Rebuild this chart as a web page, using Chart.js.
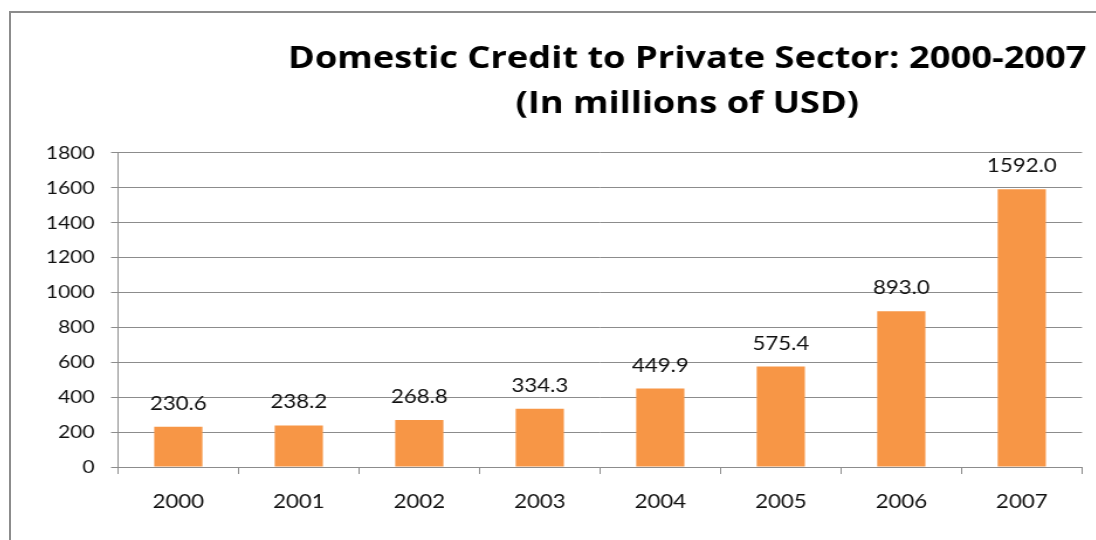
<!DOCTYPE html>
<html>
<head>
<meta charset="utf-8">
<title>Domestic Credit to Private Sector: 2000-2007</title>
<script src="https://cdn.jsdelivr.net/npm/chart.js@4.4.1/dist/chart.umd.min.js"></script>
<style>
  html, body { margin: 0; padding: 0; background: #fff; overflow: hidden; width: 1096px; height: 540px; }
  #frame {
    position: absolute; left: 9px; top: 11px; width: 2000px; height: 1000px;
    border-top: 2px solid #8c8c8c; border-left: 2px solid #8c8c8c;
  }
  #chart {
    position: absolute; left: 11px; top: 13px;
    transform: scaleX(1.17); transform-origin: 0 0;
  }
</style>
</head>
<body>
<div id="frame"></div>
<canvas id="chart" width="1156" height="527"></canvas>
<script>
// Years on the category axis
const years = ['2000', '2001', '2002', '2003', '2004', '2005', '2006', '2007'];
// Domestic credit to the private sector, millions of USD
const creditValues = [230.6, 238.2, 268.8, 334.3, 449.9, 575.4, 893.0, 1592.0];
// Value axis range and step
const yMin = 0;
const yMax = 1800;
const yStep = 200;
const titleLines = ['Domestic Credit to Private Sector: 2000-2007', '(In millions of USD)'];

const FONT = 'Lato';
const TITLE_FONT = 'Open Sans';
const INK = '#111111';
const GRID = '#8c8c8c';

// Writes each bar's value just above it
const valueLabels = {
  id: 'valueLabels',
  afterDatasetsDraw(chart) {
    const ctx = chart.ctx;
    const meta = chart.getDatasetMeta(0);
    const data = chart.data.datasets[0].data;
    ctx.save();
    ctx.font = '19px ' + FONT;
    ctx.fillStyle = INK;
    ctx.textAlign = 'center';
    ctx.textBaseline = 'alphabetic';
    meta.data.forEach((bar, i) => {
      ctx.fillText(Number(data[i]).toFixed(1), bar.x, bar.y - 17);
    });
    ctx.restore();
  }
};

new Chart(document.getElementById('chart'), {
  type: 'bar',
  data: {
    labels: years,
    datasets: [{
      data: creditValues,
      backgroundColor: '#F79646',
      borderWidth: 0,
      barPercentage: 0.4,
      categoryPercentage: 1.0
    }]
  },
  options: {
    responsive: false,
    animation: false,
    devicePixelRatio: 1,
    layout: { padding: 0 },
    plugins: {
      legend: { display: false },
      tooltip: { enabled: false },
      title: {
        display: true,
        text: titleLines,
        color: '#000',
        font: { family: TITLE_FONT, size: 31, weight: 'bold', lineHeight: 1.435 },
        padding: { top: 24, bottom: 27 }
      }
    },
    scales: {
      x: {
        offset: true,
        grid: { display: true, drawOnChartArea: false, drawTicks: true, tickLength: 7, color: GRID, offset: true },
        border: { display: true, color: GRID },
        ticks: { color: INK, font: { family: FONT, size: 19 }, padding: 16 },
        afterFit(scale) { scale.height = 73; }
      },
      y: {
        min: yMin,
        max: yMax,
        grid: { color: GRID, tickLength: 6, drawTicks: true },
        border: { display: true, color: GRID },
        ticks: {
          stepSize: yStep, color: INK, font: { family: FONT, size: 18 }, padding: 14,
          callback: (v) => String(v)
        },
        afterFit(scale) { scale.width = 91.5; }
      },
      spacer: {
        position: 'right',
        display: true,
        grid: { display: false },
        border: { display: false },
        ticks: { display: false },
        afterFit(scale) { scale.width = 240.6; }
      }
    }
  },
  plugins: [valueLabels]
});
</script>
</body>
</html>
